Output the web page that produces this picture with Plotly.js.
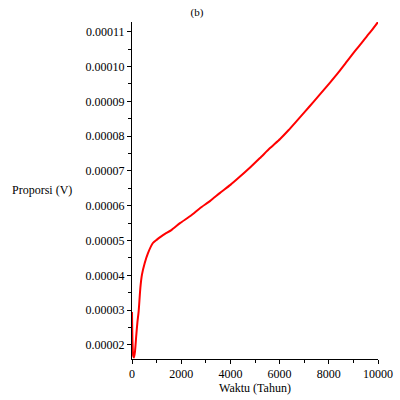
<!DOCTYPE html>
<html>
<head>
<meta charset="utf-8">
<script src="https://cdn.plot.ly/plotly-3.0.1.min.js"></script>
<style>html,body{margin:0;padding:0;background:#fff;}#chart{width:400px;height:400px;}</style>
</head>
<body>
<div id="chart"></div>
<script>
var waktu = [0, 20, 50, 80, 120, 175, 220, 270, 340, 405, 515, 650, 850, 1000, 1190, 1340, 1600, 1950, 2400, 2760, 3180, 3580, 4000, 4390, 4800, 5200, 5600, 6020, 6360, 6700, 7040, 7370, 7700, 8050, 8400, 8730, 9060, 9400, 9700, 10000];
var proporsi = [2.95e-5, 2.1e-5, 1.68e-5, 1.64e-5, 1.8e-5, 2.29e-5, 2.65e-5, 2.96e-5, 3.64e-5, 4.02e-5, 4.35e-5, 4.64e-5, 4.93e-5, 5.02e-5, 5.12e-5, 5.19e-5, 5.3e-5, 5.5e-5, 5.72e-5, 5.93e-5, 6.14e-5, 6.37e-5, 6.6e-5, 6.84e-5, 7.1e-5, 7.37e-5, 7.65e-5, 7.92e-5, 8.17e-5, 8.44e-5, 8.71e-5, 8.98e-5, 9.25e-5, 9.54e-5, 9.84e-5, 10.14e-5, 10.44e-5, 10.74e-5, 11.0e-5, 11.28e-5];
var judul = '(b)';
var judulX = 'Waktu (Tahun)';
var judulY = 'Proporsi (V)';

var font = {family: 'Liberation Serif', size: 12, color: '#000'};

var trace = {
  x: waktu, y: proporsi, type: 'scatter', mode: 'lines',
  line: {color: '#ff0000', width: 2, shape: 'spline', smoothing: 0.5},
  hoverinfo: 'none'
};

var layout = {
  width: 400, height: 400,
  margin: {l: 132, r: 22, t: 22, b: 41},
  paper_bgcolor: '#fff', plot_bgcolor: '#fff',
  font: font,
  showlegend: false,
  title: {text: judul, x: 197/400, xanchor: 'center', y: 1 - 12/400, yanchor: 'middle', font: {family: 'Liberation Serif', size: 11, color: '#000'}},
  xaxis: {
    range: [0, 10000], tick0: 0, dtick: 2000, tickformat: 'd',
    ticks: 'outside', ticklen: 4, tickcolor: '#000', tickwidth: 1,
    showline: true, linecolor: '#000', linewidth: 1,
    showgrid: false, zeroline: false,
    minor: {dtick: 1000, ticks: 'outside', ticklen: 3, tickcolor: '#000', showgrid: false},
    tickfont: font,
    title: {text: judulX, font: font, standoff: 2}
  },
  yaxis: {
    range: [1.597e-5, 1.128e-4], tick0: 0, dtick: 1e-5, tickformat: '.5f',
    ticks: 'outside', ticklen: 4, tickcolor: '#000', tickwidth: 1,
    showline: true, linecolor: '#000', linewidth: 1,
    showgrid: false, zeroline: false,
    minor: {dtick: 5e-6, ticks: 'outside', ticklen: 3, tickcolor: '#000', showgrid: false},
    tickfont: font
  },
  annotations: [{
    text: judulY, xref: 'paper', yref: 'paper',
    x: (10 - 132) / 246, xanchor: 'left', y: (359 - 190) / 337, yanchor: 'middle',
    showarrow: false, font: font
  }]
};

Plotly.newPlot('chart', [trace], layout, {displayModeBar: false, staticPlot: true});
</script>
</body>
</html>
